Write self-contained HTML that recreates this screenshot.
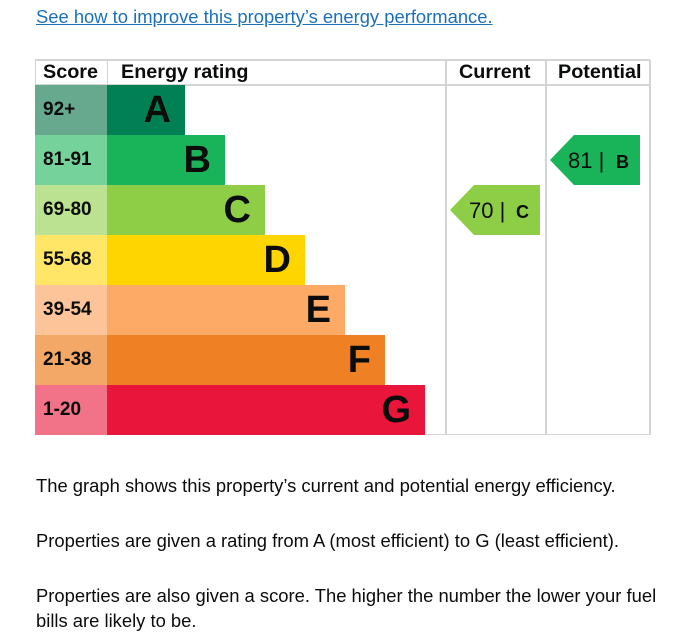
<!DOCTYPE html>
<html><head><style>
body{margin:0;background:#fff;width:683px;height:636px;position:relative;font-family:"Liberation Sans",Arial,sans-serif;color:#0b0c0c;overflow:hidden}
.a{position:absolute}
.t{font-size:18.4px;left:36px;white-space:nowrap}
.h{font-weight:bold;font-size:19.8px;top:61px}
.sc{left:35px;width:72px;height:50px;font-weight:bold;font-size:19px;line-height:50px;box-sizing:border-box;padding-left:8px}
.bar{left:107px;height:50px;font-weight:bold;font-size:38px;line-height:50px;text-align:right;box-sizing:border-box;padding-right:14px}
.vl{top:60px;width:1px;height:375px;background:#d4d4d4}
.hl{left:35px;width:615px;height:2px;background:#d4d4d4}
</style></head><body>
<div class="a t" style="top:6px;color:#1d70b8;text-decoration:underline">See how to improve this property’s energy performance.</div>
<div class="a hl" style="top:59px"></div>
<div class="a hl" style="top:84px"></div>
<div class="a hl" style="top:434px;height:1px"></div>
<div class="a vl" style="left:35px"></div>
<div class="a vl" style="left:107px;height:25px"></div>
<div class="a vl" style="left:445px;width:2px"></div>
<div class="a vl" style="left:545px;width:2px"></div>
<div class="a vl" style="left:649px;width:2px"></div>
<div class="a h" style="left:43px">Score</div>
<div class="a h" style="left:121px">Energy rating</div>
<div class="a h" style="left:459px">Current</div>
<div class="a h" style="left:558px">Potential</div>

<div class="a sc" style="top:85px;background:#66a98f">92+</div>
<div class="a bar" style="top:85px;width:78px;background:#008054">A</div>
<div class="a sc" style="top:135px;background:#75d29b">81-91</div>
<div class="a bar" style="top:135px;width:118px;background:#19b459">B</div>
<div class="a sc" style="top:185px;background:#bbe290">69-80</div>
<div class="a bar" style="top:185px;width:158px;background:#8dce46">C</div>
<div class="a sc" style="top:235px;background:#ffe666">55-68</div>
<div class="a bar" style="top:235px;width:198px;background:#ffd500">D</div>
<div class="a sc" style="top:285px;background:#fdc49a">39-54</div>
<div class="a bar" style="top:285px;width:238px;background:#fcaa65">E</div>
<div class="a sc" style="top:335px;background:#f4a867">21-38</div>
<div class="a bar" style="top:335px;width:278px;background:#ef8023">F</div>
<div class="a sc" style="top:385px;background:#f27287">1-20</div>
<div class="a bar" style="top:385px;width:318px;background:#e9153b">G</div>

<svg class="a" style="left:450px;top:185px" width="90" height="50"><polygon points="0,25 24,0 90,0 90,50 24,50" fill="#8dce46"/><text x="19" y="33" font-size="22" font-family="Liberation Sans" fill="#0b0c0c">70 |</text><text x="66" y="33" font-size="18" font-weight="bold" font-family="Liberation Sans" fill="#0b0c0c">C</text></svg>
<svg class="a" style="left:550px;top:135px" width="90" height="50"><polygon points="0,25 24,0 90,0 90,50 24,50" fill="#19b459"/><text x="18" y="33" font-size="22" font-family="Liberation Sans" fill="#0b0c0c">81 |</text><text x="66" y="33" font-size="18" font-weight="bold" font-family="Liberation Sans" fill="#0b0c0c">B</text></svg>

<div class="a t" style="top:475px">The graph shows this property’s current and potential energy efficiency.</div>
<div class="a t" style="top:530px">Properties are given a rating from A (most efficient) to G (least efficient).</div>
<div class="a t" style="top:585px">Properties are also given a score. The higher the number the lower your fuel</div>
<div class="a t" style="top:610px">bills are likely to be.</div>
</body></html>
